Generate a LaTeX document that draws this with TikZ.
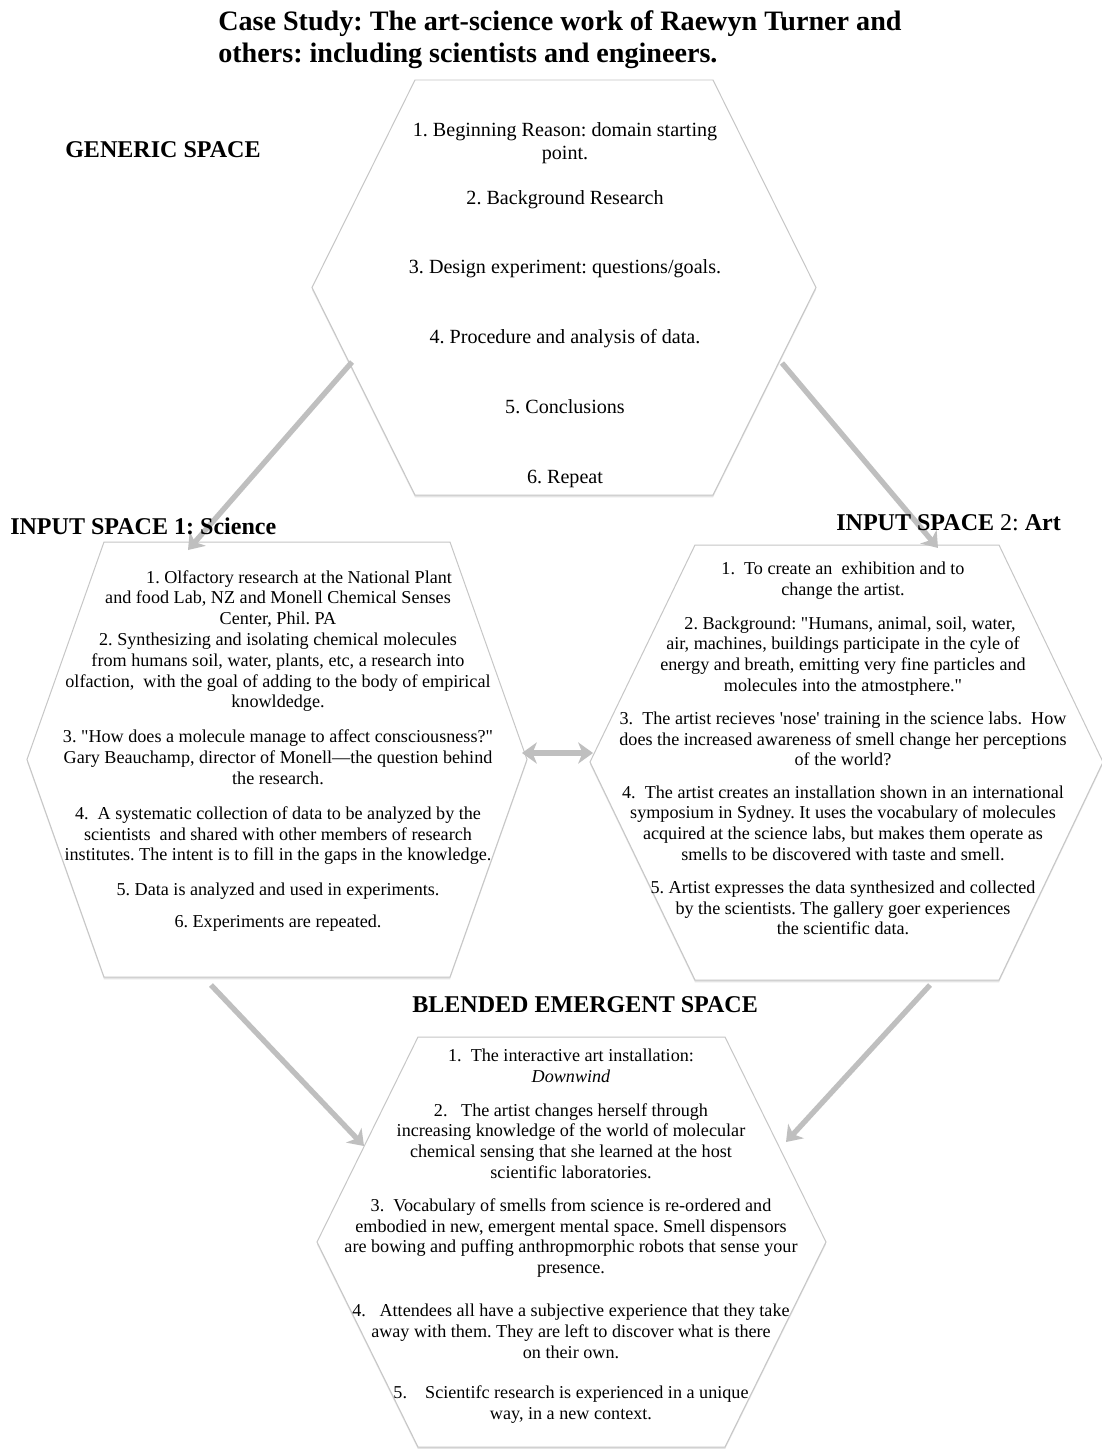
\documentclass[tikz,border=0pt]{standalone}
\usepackage{fontspec}
\setmainfont{Liberation Serif}
\usetikzlibrary{arrows.meta,shadows}
\frenchspacing

% straight quotes, out of reach of the TeX ligature mapping
\newcommand\dq{\XeTeXglyph\XeTeXcharglyph"22\relax}
\newcommand\sq{\XeTeXglyph\XeTeXcharglyph"27\relax}

\tikzset{
  hexline/.style={draw=gray!45, line width=0.7pt, fill=white,
    drop shadow={shadow xshift=0pt, shadow yshift=-1.6pt, opacity=0.3, fill=gray!70}},
  flowarrow/.style={draw=gray!50, line width=3.8pt},
  >={Stealth[length=10.5pt,width=15pt,inset=3pt]},
  titletext/.style={font=\fontsize{20}{22.7}\selectfont\bfseries, inner sep=0pt, anchor=base west},
  spacehead/.style={font=\fontsize{17.1}{19.5}\selectfont\bfseries, inner sep=0pt, anchor=base west},
  hexbody/.style={align=center, inner sep=0pt, anchor=north, font=\fontsize{12.9}{14.8}\selectfont}
}

\begin{document}
\begin{tikzpicture}[x=0.025cm, y=-0.025cm]
\path[use as bounding box, fill=white] (0,0) rectangle (1101,1449);

% the four spaces
\path[hexline] (415,80) -- (713,80) -- (816,287.5) -- (713,495) -- (415,495) -- (312,287.5) -- cycle;
\path[hexline] (104,542) -- (450,542) -- (527,759.5) -- (450,977) -- (104,977) -- (27,759.5) -- cycle;
\path[hexline] (695,545) -- (999,545) -- (1103,762) -- (999,980) -- (695,980) -- (590,762) -- cycle;
\path[hexline] (418,1037) -- (725,1037) -- (826,1242) -- (725,1447) -- (418,1447) -- (317,1242) -- cycle;

% arrow ends
\coordinate (genL) at (352,362);
\coordinate (sciIn) at (188,550);
\coordinate (genR) at (782,363);
\coordinate (artIn) at (938,548);
\coordinate (sciR) at (522,753);
\coordinate (artL) at (593,753);
\coordinate (sciOut) at (211,985);
\coordinate (blendL) at (364,1146);
\coordinate (artOut) at (930,985);
\coordinate (blendR) at (786,1142);

\draw[flowarrow,->] (genL) -- (sciIn);
\draw[flowarrow,->] (genR) -- (artIn);
\draw[flowarrow,<->] (sciR) -- (artL);
\draw[flowarrow,->] (sciOut) -- (blendL);
\draw[flowarrow,->] (artOut) -- (blendR);

% titles
\node[titletext] (title1) at (218,30) {Case Study: The art-science work of Raewyn Turner and};
\node[titletext] (title2) at (218,62) {others: including scientists and engineers.};
\node[spacehead] (genhead) at (65,157) {GENERIC SPACE};
\node[spacehead] (scihead) at (10,534) {INPUT SPACE 1: Science};
\node[spacehead] (arthead) at (836,530) {INPUT SPACE {\mdseries 2:} Art};
\node[spacehead] (blendhead) at (412,1012) {BLENDED EMERGENT SPACE};

% generic space
\node[hexbody, font=\fontsize{14.3}{16.3}\selectfont] (gentext) at (565,122) {1. Beginning Reason: domain starting\\
point.\\[15.6pt]
2. Background Research\\[33.4pt]
3. Design experiment: questions/goals.\\[33.4pt]
4. Procedure and analysis of data.\\[33.4pt]
5. Conclusions\\[33.4pt]
6. Repeat};

% input space 1
\node[hexbody] (scitext) at (278,570) {\hspace*{30pt}1. Olfactory research at the National Plant\\
and food Lab, NZ and Monell Chemical Senses\\
Center, Phil. PA\\
2. Synthesizing and isolating chemical molecules\\
from humans soil, water, plants, etc, a research into\\
olfaction,\ \ with the goal of adding to the body of empirical\\
knowldedge.\\[10pt]
3. \dq How does a molecule manage to affect consciousness?\dq\\
Gary Beauchamp, director of Monell—the question behind\\
the research.\\[10pt]
4.\ \ A systematic collection of data to be analyzed by the\\
scientists\ \ and shared with other members of research\\
institutes. The intent is to fill in the gaps in the knowledge.\\[10pt]
5. Data is analyzed and used in experiments.\\[8pt]
6. Experiments are repeated.};

% input space 2
\node[hexbody] (arttext) at (843,562) {1.\ \ To create an\ \ exhibition and to\\
change the artist.\\[9pt]
\hspace*{10pt}2. Background: \dq Humans, animal, soil, water,\\
air, machines, buildings participate in the cyle of\\
energy and breath, emitting very fine particles and\\
molecules into the atmostphere.\dq\\[8.5pt]
3.\ \ The artist recieves \sq nose\sq\ training in the science labs.\ \ How\\
does the increased awareness of smell change her perceptions\\
of the world?\\[8pt]
4.\ \ The artist creates an installation shown in an international\\
symposium in Sydney. It uses the vocabulary of molecules\\
acquired at the science labs, but makes them operate as\\
smells to be discovered with taste and smell.\\[8.5pt]
5. Artist expresses the data synthesized and collected\\
by the scientists. The gallery goer experiences\\
the scientific data.};

% blended space
\node[hexbody] (blendtext) at (571,1049) {1.\ \ The interactive art installation:\\
\textit{Downwind}\\[9pt]
2.\ \ \ The artist changes herself through\\
increasing knowledge of the world of molecular\\
chemical sensing that she learned at the host\\
scientific laboratories.\\[8.5pt]
3.\ \ Vocabulary of smells from science is re-ordered and\\
embodied in new, emergent mental space. Smell dispensors\\
are bowing and puffing anthropmorphic robots that sense your\\
presence.\\[15.6pt]
4.\hspace{0.75em}Attendees all have a subjective experience that they take\\
away with them. They are left to discover what is there\\
on their own.\\[14.2pt]
5.\hspace{1em}Scientifc research is experienced in a unique\\
way, in a new context.};
\end{tikzpicture}
\end{document}
